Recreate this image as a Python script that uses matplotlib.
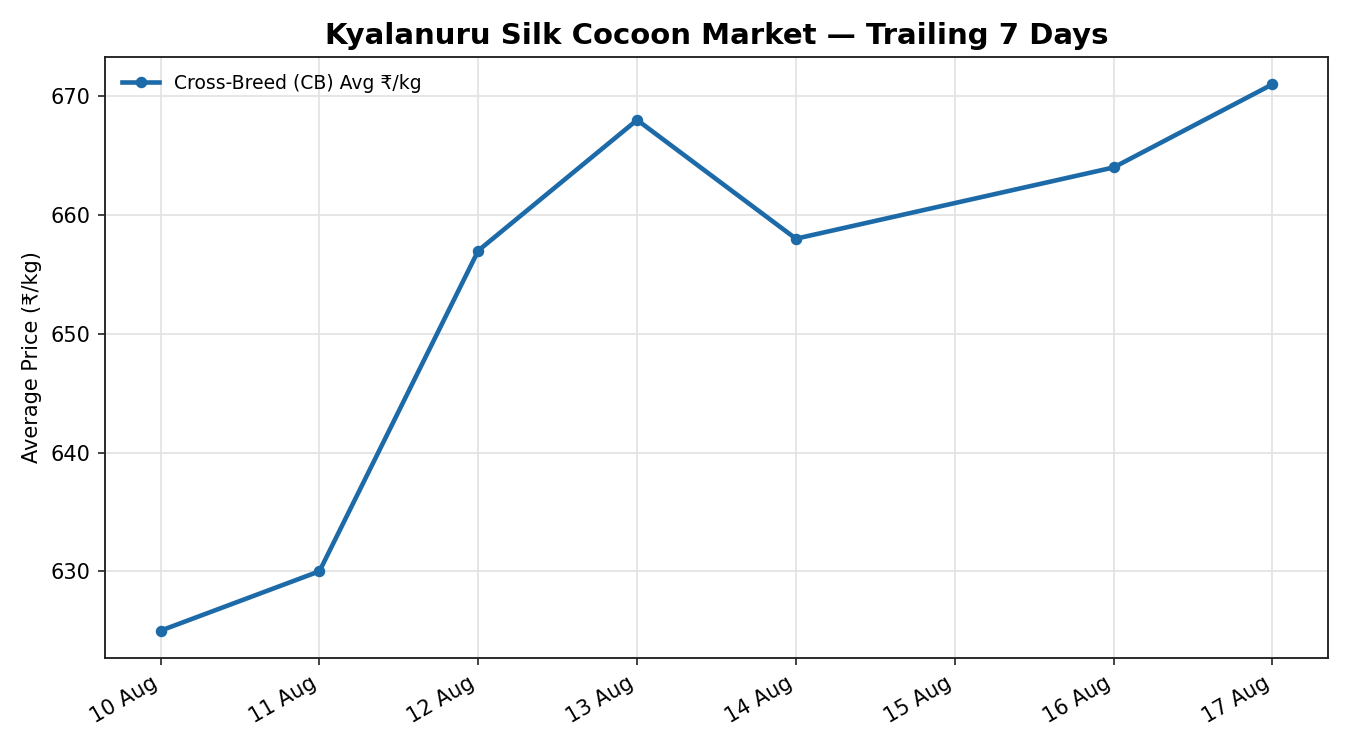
import matplotlib
matplotlib.use("Agg")
import matplotlib.pyplot as plt
import matplotlib.dates as mdates
import pandas as pd

plt.rcParams["font.family"] = ["DejaVu Sans"]

dates = ["2024-08-10", "2024-08-11", "2024-08-12", "2024-08-13", "2024-08-14", "2024-08-16", "2024-08-17"]
prices = [625, 630, 657, 668, 658, 664, 671]
tick_dates = ["2024-08-10", "2024-08-11", "2024-08-12", "2024-08-13", "2024-08-14", "2024-08-15", "2024-08-16", "2024-08-17"]

x = pd.to_datetime(dates)
fig = plt.figure(figsize=(9, 5), dpi=150)
ax = fig.add_axes([0.0778, 0.1227, 0.9059, 0.8013])
ax.plot(x, prices, color="#1c6aa8", lw=2.2, marker="o", ms=4.5, label="Cross-Breed (CB) Avg ₹/kg")
ax.set_xticks(pd.to_datetime(tick_dates))
ax.xaxis.set_major_formatter(mdates.DateFormatter("%d %b"))
plt.setp(ax.get_xticklabels(), rotation=30, ha="right")
ax.tick_params(labelsize=10, color="#222222", length=3.5)
ax.grid(True, color="#e2e2e2", lw=0.8)
ax.set_axisbelow(True)
for s in ax.spines.values():
    s.set_color("#222222")
    s.set_linewidth(0.9)
ax.set_ylabel("Average Price (₹/kg)", fontsize=10)
ax.set_title("Kyalanuru Silk Cocoon Market — Trailing 7 Days", fontsize=14, fontweight="bold", pad=6)
ax.legend(loc="upper left", frameon=False, fontsize=9)
fig.savefig("out.png", dpi=150)
